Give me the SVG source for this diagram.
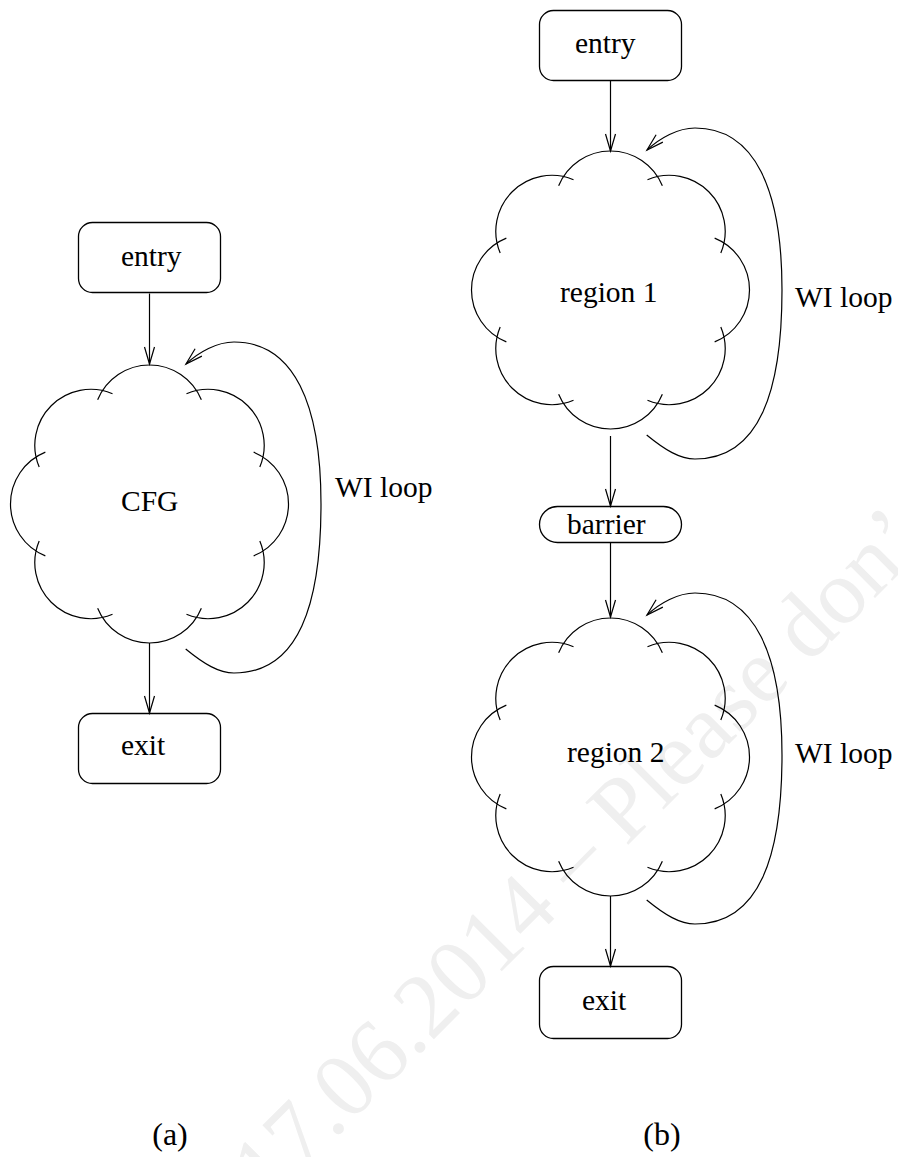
<svg xmlns="http://www.w3.org/2000/svg" width="898" height="1157" viewBox="0 0 898 1157">
<style>
.box{fill:none;stroke:#000;stroke-width:1.3}
.cloud{fill:none;stroke:#000;stroke-width:1.2}
.edge{fill:none;stroke:#000;stroke-width:1.2}
.lbl{font-family:"Liberation Serif","Times New Roman",serif;font-size:29.5px;fill:#000}
.cap{font-family:"Liberation Serif","Times New Roman",serif;font-size:32px;fill:#000;text-anchor:middle}
.wm{font-family:"Liberation Serif","Times New Roman",serif;font-size:92px;fill:#efefef}
</style>
<defs>
<marker id="arr" markerUnits="userSpaceOnUse" markerWidth="24" markerHeight="14" viewBox="-19 -7 21 14" refX="0" refY="0" orient="auto">
<path d="M-17,-5 L0,0 L-17,5" fill="none" stroke="#000" stroke-width="1.2"/>
</marker>
<path id="cloudShape" class="cloud" d="M104.16,51.85 A56,56 0 0 0 104.16,-51.85 M110.32,-36.99 A56,56 0 0 0 36.99,-110.32 M51.85,-104.16 A56,56 0 0 0 -51.85,-104.16 M-36.99,-110.32 A56,56 0 0 0 -110.32,-36.99 M-104.16,-51.85 A56,56 0 0 0 -104.16,51.85 M-110.32,36.99 A56,56 0 0 0 -36.99,110.32 M-51.85,104.16 A56,56 0 0 0 51.85,104.16 M36.99,110.32 A56,56 0 0 0 110.32,36.99"/>
</defs>
<rect width="898" height="1157" fill="#fff"/>
<text class="wm" x="268.3" y="1204.7" transform="rotate(-45 268.3 1204.7)">17.06.2014 – Please don’</text>

<g id="connectors">
<line class="edge" x1="149.5" y1="293.5" x2="149.5" y2="364" marker-end="url(#arr)"/>
<line class="edge" x1="149.5" y1="643" x2="149.5" y2="713" marker-end="url(#arr)"/>
<path class="edge" d="M185.7,649 C204,664 219,673 234,673 C299,673 321,604 321,504 C321,404 294,342 234,342 C217,342 199,352 186,364" marker-end="url(#arr)"/>
<line class="edge" x1="610.5" y1="80.5" x2="610.5" y2="151" marker-end="url(#arr)"/>
<line class="edge" x1="610.5" y1="436" x2="610.5" y2="506" marker-end="url(#arr)"/>
<line class="edge" x1="610.5" y1="542.5" x2="610.5" y2="617" marker-end="url(#arr)"/>
<line class="edge" x1="610.5" y1="896" x2="610.5" y2="966" marker-end="url(#arr)"/>
<path class="edge" d="M646.7,435 C665,450 680,459 695,459 C760,459 782,390 782,290 C782,190 755,128 695,128 C678,128 660,138 647,150" marker-end="url(#arr)"/>
<path class="edge" d="M646.7,900 C665,915 680,924 695,924 C760,924 782,855 782,755 C782,655 755,593 695,593 C678,593 660,603 647,615" marker-end="url(#arr)"/>
</g>

<g id="a-entry">
<rect class="box" x="78.5" y="222.5" width="142" height="70" rx="14"/>
<text class="lbl" x="121" y="266">entry</text>
</g>
<g id="a-cfg">
<use href="#cloudShape" x="149.5" y="504"/>
<text class="lbl" x="121" y="511">CFG</text>
</g>
<g id="a-exit">
<rect class="box" x="78.5" y="713.5" width="142" height="70" rx="14"/>
<text class="lbl" x="121" y="755">exit</text>
</g>
<g id="a-wiloop-label">
<text class="lbl" x="335" y="497">WI loop</text>
</g>

<g id="b-entry">
<rect class="box" x="539.5" y="10.5" width="142" height="70" rx="14"/>
<text class="lbl" x="575" y="53">entry</text>
</g>
<g id="b-region1">
<use href="#cloudShape" x="610.5" y="290"/>
<text class="lbl" x="560" y="302">region 1</text>
</g>
<g id="b-wiloop1-label">
<text class="lbl" x="795" y="307">WI loop</text>
</g>
<g id="b-barrier">
<rect class="box" x="539.5" y="506.5" width="142" height="36" rx="18"/>
<text class="lbl" x="567" y="534">barrier</text>
</g>
<g id="b-region2">
<use href="#cloudShape" x="610.5" y="757"/>
<text class="lbl" x="567" y="762">region 2</text>
</g>
<g id="b-wiloop2-label">
<text class="lbl" x="795" y="763">WI loop</text>
</g>
<g id="b-exit">
<rect class="box" x="539.5" y="966.5" width="142" height="72" rx="14"/>
<text class="lbl" x="582" y="1010">exit</text>
</g>

<g id="captions">
<text class="cap" x="170" y="1145">(a)</text>
<text class="cap" x="662" y="1145">(b)</text>
</g>
</svg>
